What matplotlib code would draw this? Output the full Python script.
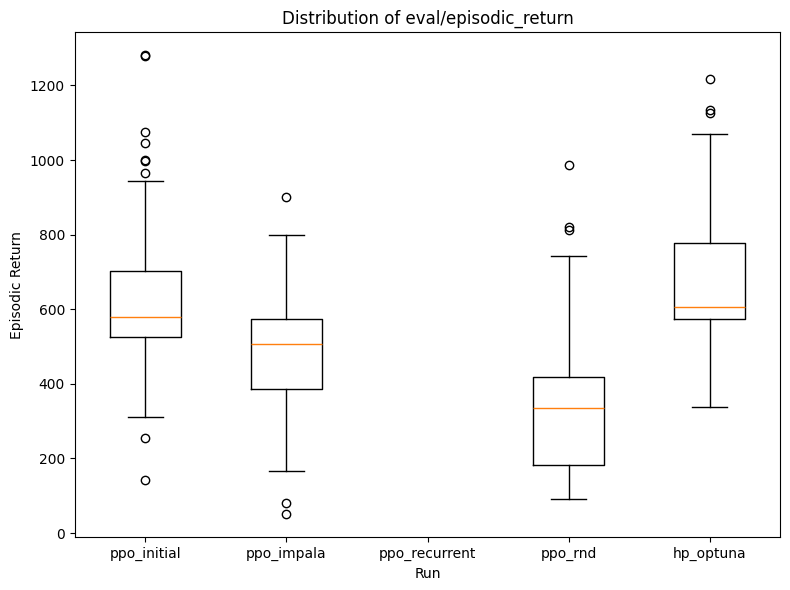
import matplotlib
matplotlib.use("Agg")
import matplotlib.pyplot as plt

runs = ["ppo_initial", "ppo_impala", "ppo_recurrent", "ppo_rnd", "hp_optuna"]

# box stats (ppo_recurrent has no data)
whislo = [311, 165, None, 90, 337]
q1 = [525, 386, None, 182, 575]
med = [578, 506, None, 334, 605]
q3 = [702, 575, None, 419, 777]
whishi = [945, 800, None, 744, 1069]
fliers = [
    [1281, 1279, 1074, 1045, 1000, 997, 964, 256, 141],
    [900, 80, 50],
    [],
    [986, 821, 812],
    [1218, 1134, 1125],
]

stats = []
positions = []
for i, name in enumerate(runs):
    if med[i] is None:
        continue
    stats.append(dict(label=name, whislo=whislo[i], q1=q1[i], med=med[i],
                      q3=q3[i], whishi=whishi[i], fliers=fliers[i]))
    positions.append(i + 1)

fig, ax = plt.subplots(figsize=(7.9, 5.9), dpi=100)
ax.bxp(stats, positions=positions)
ax.set_xlim(0.5, len(runs) + 0.5)
ax.set_xticks(range(1, len(runs) + 1))
ax.set_xticklabels(runs)
ax.set_title("Distribution of eval/episodic_return")
ax.set_xlabel("Run")
ax.set_ylabel("Episodic Return")
fig.subplots_adjust(left=0.0946, right=0.9877, top=0.9453, bottom=0.0893)
fig.savefig("out.png", dpi=100)
